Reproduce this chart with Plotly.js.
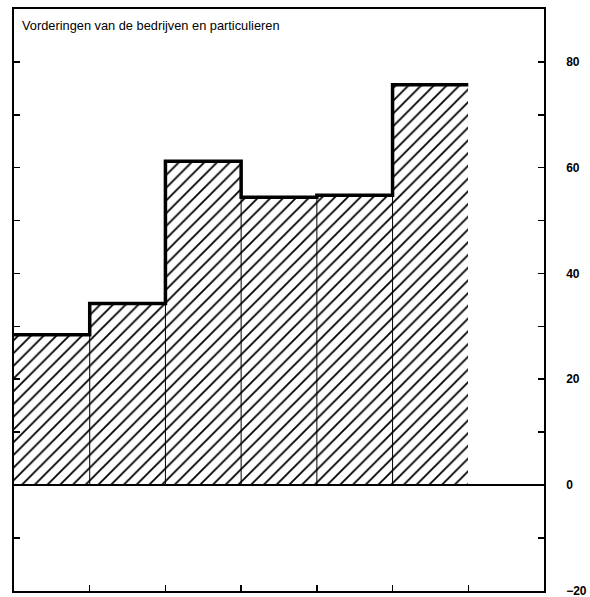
<!DOCTYPE html>
<html>
<head>
<meta charset="utf-8">
<script src="https://cdn.plot.ly/plotly-3.0.1.min.js"></script>
<style>html,body{margin:0;padding:0;background:#fff;}#chart{width:590px;height:597px;}</style>
</head>
<body>
<div id="chart"></div>
<script>
// Data
const categories = [1, 2, 3, 4, 5, 6];
const values = [28.4, 34.3, 61.2, 54.4, 54.8, 75.7];
const yTickVals = [-20, 0, 20, 40, 60, 80];
const yTickText = ['−20', '0', '20', '40', '60', '80'];
const titleText = 'Vorderingen van de bedrijven en particulieren';

// bar centres: each category occupies one unit slot starting at 0
const xCenters = categories.map(c => c - 0.5);

// step outline along the bar tops
const stepX = categories.map(c => c - 1).concat([categories.length]);
const stepY = values.concat([values[values.length - 1]]);

// thin separators between adjacent bars
const sepX = [], sepY = [];
for (let i = 1; i < values.length; i++) {
  sepX.push(categories[i - 1], categories[i - 1], null);
  sepY.push(0, Math.max(values[i - 1], values[i]), null);
}

const traces = [
  {
    type: 'bar',
    x: xCenters,
    y: values,
    width: 1,
    marker: {
      color: 'white',
      line: {width: 0},
      pattern: {shape: '/', size: 9, solidity: 0.2, fgcolor: 'black', bgcolor: 'white'}
    },
    hoverinfo: 'skip'
  },
  {
    type: 'scatter',
    mode: 'lines',
    x: sepX,
    y: sepY,
    line: {color: 'black', width: 1},
    hoverinfo: 'skip'
  },
  {
    type: 'scatter',
    mode: 'lines',
    x: stepX,
    y: stepY,
    line: {color: 'black', width: 3.5, shape: 'hv'},
    hoverinfo: 'skip'
  }
];

const layout = {
  width: 590,
  height: 597,
  margin: {l: 14, r: 46, t: 9, b: 6},
  paper_bgcolor: 'white',
  plot_bgcolor: 'white',
  showlegend: false,
  bargap: 0,
  xaxis: {
    range: [0, 7],
    tickvals: categories,
    ticks: 'inside',
    ticklen: 6,
    tickwidth: 1.5,
    tickcolor: 'black',
    showticklabels: false,
    showgrid: false,
    zeroline: false,
    showline: true,
    linecolor: 'black',
    linewidth: 1.8,
    mirror: true,
    layer: 'above traces',
    fixedrange: true
  },
  yaxis: {
    side: 'right',
    range: [-20.05, 90],
    tickvals: yTickVals,
    ticktext: yTickText,
    ticks: 'inside',
    ticklen: 6,
    tickwidth: 1.5,
    tickcolor: 'black',
    minor: {dtick: 10, tick0: 0, ticks: 'inside', ticklen: 6, tickwidth: 1.5, tickcolor: 'black', showgrid: false},
    ticklabelstandoff: 18,
    ticklabeloverflow: 'allow',
    tickfont: {family: 'Liberation Sans, Arial, sans-serif', size: 12, color: 'black', weight: 'bold'},
    showgrid: false,
    zeroline: false,
    showline: true,
    linecolor: 'black',
    linewidth: 1.8,
    mirror: 'ticks',
    layer: 'above traces',
    fixedrange: true
  },
  shapes: [
    {type: 'line', xref: 'paper', yref: 'y', x0: 0, x1: 1, y0: 0, y1: 0,
     line: {color: 'black', width: 2}, layer: 'above'}
  ],
  annotations: [
    {
      text: titleText,
      xref: 'paper', yref: 'paper',
      x: 0.011, y: 0.972,
      xanchor: 'left', yanchor: 'middle',
      showarrow: false,
      font: {family: 'Liberation Sans, Arial, sans-serif', size: 12.8, color: 'black'}
    }
  ]
};

Plotly.newPlot('chart', traces, layout, {staticPlot: true, displayModeBar: false});
</script>
</body>
</html>
